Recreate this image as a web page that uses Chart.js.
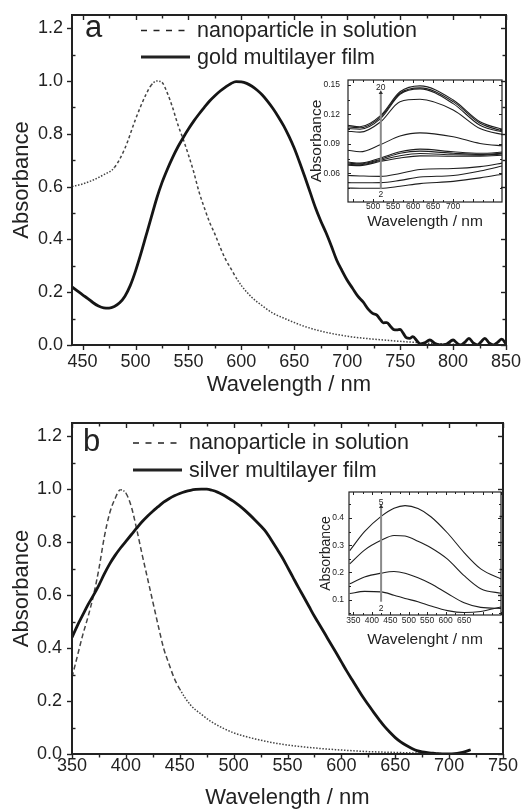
<!DOCTYPE html>
<html>
<head>
<meta charset="utf-8">
<script src="https://cdn.jsdelivr.net/npm/chart.js@4.4.1/dist/chart.umd.min.js"></script>
<style>
  html, body { margin: 0; padding: 0; background: #fff; }
  #wrap { position: relative; width: 526px; height: 811px; overflow: hidden; }
  #wrap canvas { position: absolute; }
</style>
</head>
<body>
<div id="wrap">
  <canvas id="mainA"></canvas>
  <canvas id="insetA"></canvas>
  <canvas id="mainB"></canvas>
  <canvas id="insetB"></canvas>
</div>
<script>
// ---- panel a : gold ----
const goldFilmX = [440,445,450,455,460,465,470,475,480,485,490,495,500,505,510,515,520,525,530,535,
  540,545,550,555,560,565,570,575,580,585,590,595,600,605,610,615,620,625,630,635,640,645,650,655,
  660,665,670,675,680,685,690,695,700,705,710,715,720,724,728,731,734,737.5,741,744,747,750,753,756,
  759,762,766,769,773,778,783,788,794,800,804,807,811,815,819,823,826,830,834,838,842,846,850];
const goldFilm = [0.220,0.205,0.190,0.176,0.160,0.148,0.141,0.140,0.146,0.160,0.185,0.225,0.280,0.345,
  0.415,0.485,0.555,0.615,0.665,0.710,0.750,0.785,0.818,0.848,0.875,0.900,0.924,0.944,0.962,0.977,
  0.990,0.998,0.997,0.991,0.980,0.965,0.946,0.922,0.895,0.864,0.830,0.790,0.745,0.692,0.636,0.578,
  0.520,0.470,0.425,0.375,0.322,0.282,0.245,0.215,0.185,0.163,0.135,0.120,0.113,0.098,0.084,0.085,
  0.070,0.058,0.057,0.059,0.044,0.027,0.025,0.032,0.015,0.004,0.008,0.019,0.006,0.000,0.004,0.019,
  0.006,0.000,0.010,0.025,0.008,0.000,0.010,0.025,0.008,0.000,0.010,0.022,0.004];
const goldSolX = [440,450,460,470,480,490,500,505,510,515,520,525,530,535,540,545,550,555,560,565,570,
  575,580,585,590,595,600,610,620,630,640,650,660,670,680,690,700,720,740,760,780,800,820,850];
const goldSol = [0.600,0.610,0.625,0.645,0.672,0.745,0.855,0.905,0.950,0.985,1.000,0.995,0.955,0.900,
  0.835,0.780,0.720,0.655,0.580,0.520,0.465,0.420,0.370,0.325,0.290,0.255,0.225,0.180,0.148,0.120,
  0.102,0.085,0.070,0.058,0.048,0.040,0.033,0.024,0.017,0.011,0.006,0.003,0.001,0.000];
const mainATicksX = [450,500,550,600,650,700,750,800,850];
const mainTicksY = [0,0.2,0.4,0.6,0.8,1.0,1.2];

// inset a : film growth, layers 2 ... 20
const insetAX = [435,467,519,567,617,700,767,831];
const goldLayers = [
  [0.1090,0.1075,0.1190,0.1430,0.1490,0.1347,0.1126,0.1040],
  [0.1075,0.1065,0.1176,0.1415,0.1470,0.1330,0.1110,0.1024],
  [0.1058,0.1050,0.1160,0.1405,0.1460,0.1310,0.1090,0.1014],
  [0.1030,0.1020,0.1126,0.1330,0.1354,0.1245,0.1056,0.0990],
  [0.0837,0.0820,0.0895,0.0980,0.1013,0.0973,0.0905,0.0878],
  [0.0717,0.0705,0.0758,0.0820,0.0847,0.0820,0.0805,0.0820],
  [0.0707,0.0697,0.0745,0.0805,0.0827,0.0805,0.0793,0.0810],
  [0.0694,0.0688,0.0735,0.0780,0.0803,0.0790,0.0786,0.0800],
  [0.0684,0.0680,0.0724,0.0758,0.0779,0.0775,0.0776,0.0786],
  [0.0580,0.0575,0.0570,0.0600,0.0640,0.0650,0.0670,0.0711],
  [0.0507,0.0505,0.0507,0.0530,0.0564,0.0580,0.0625,0.0684],
  [0.0452,0.0450,0.0450,0.0470,0.0497,0.0520,0.0555,0.0599]
];
const insetATicksX = [500,550,600,650,700];
const insetATicksY = [0.06,0.09,0.12,0.15];
const arrowA = {x: 519, lo: 0.044, hi: 0.142, top: '20', topY: 0.1475, bottom: '2', bottomY: 0.0385};

// ---- panel b : silver ----
const silverFilmX = [350,355,360,365,370,375,380,385,390,395,400,405,410,415,420,425,430,435,440,445,
  450,455,460,465,470,475,480,485,490,495,500,505,510,515,520,525,530,535,540,545,550,555,560,565,
  570,575,580,585,590,595,600,605,610,615,620,625,630,635,640,645,650,655,660,665,670,675,680,685,
  690,695,700,705,710,715,720];
const silverFilm = [0.440,0.485,0.525,0.565,0.600,0.638,0.680,0.718,0.750,0.778,0.803,0.828,0.853,0.877,
  0.898,0.917,0.934,0.951,0.964,0.975,0.984,0.991,0.996,0.999,1.000,1.000,0.996,0.989,0.979,0.967,
  0.954,0.939,0.922,0.903,0.883,0.862,0.839,0.808,0.776,0.743,0.706,0.668,0.630,0.594,0.557,0.520,
  0.486,0.452,0.417,0.383,0.348,0.313,0.280,0.247,0.215,0.186,0.157,0.130,0.104,0.082,0.062,0.046,
  0.033,0.022,0.013,0.008,0.005,0.003,0.001,0.000,0.000,0.001,0.004,0.009,0.016];
const silverSolX = [350,355,360,365,370,375,380,385,390,395,400,405,410,415,420,425,430,435,440,445,
  450,460,470,480,490,500,520,540,560,580,600,625,650,675,700,720];
const silverSol = [0.290,0.370,0.450,0.520,0.600,0.700,0.820,0.910,0.965,0.998,0.985,0.935,0.850,0.755,
  0.665,0.575,0.485,0.400,0.340,0.285,0.245,0.185,0.150,0.120,0.098,0.080,0.057,0.040,0.029,0.021,
  0.015,0.009,0.006,0.003,0.001,0.000];
const mainBTicksX = [350,400,450,500,550,600,650,700,750];

// inset b : film growth, layers 2 ... 5
const insetBX = [340,380,425,460,490,525,560,605,650,695,755];
const silverLayers = [
  [0.280,0.350,0.406,0.436,0.446,0.435,0.405,0.345,0.273,0.213,0.173],
  [0.231,0.282,0.318,0.336,0.334,0.315,0.291,0.249,0.188,0.140,0.122],
  [0.158,0.183,0.197,0.203,0.197,0.180,0.158,0.122,0.088,0.071,0.067],
  [0.122,0.130,0.128,0.116,0.104,0.092,0.076,0.059,0.052,0.056,0.074]
];
const insetBTicksX = [350,400,450,500,550,600,650];
const insetBTicksY = [0.1,0.2,0.3,0.4];
const arrowB = {x: 425, lo: 0.092, hi: 0.442, top: '5', topY: 0.456, bottom: '2', bottomY: 0.068};

const FONT = "'Liberation Sans', Arial, Helvetica, sans-serif";
const INK = '#222';

// box + ticks drawn round the plot area, ticks taken from the scales
const frameTicks = {
  id: 'frameTicks',
  afterDatasetsDraw(chart, args, o) {
    const {ctx, chartArea: a} = chart;
    const sx = chart.scales.x, sy = chart.scales.y;
    const seg = (x1, y1, x2, y2) => { ctx.beginPath(); ctx.moveTo(x1, y1); ctx.lineTo(x2, y2); ctx.stroke(); };
    ctx.save();
    ctx.strokeStyle = INK;
    ctx.lineWidth = o.tickWidth;
    for (let i = 0; i < 100; i++) {
      const v = o.x.start + i * o.x.step;
      if (v > sx.max + 1e-9) break;
      if (v < sx.min - 1e-9) continue;
      const p = Math.round(sx.getPixelForValue(v)) + 0.5;
      const L = i % o.x.every === 0 ? o.major : o.minor;
      if (o.out) seg(p, a.bottom, p, a.bottom + L); else seg(p, a.bottom, p, a.bottom - L);
      seg(p, a.top, p, a.top + L);
    }
    for (let i = 0; i < 100; i++) {
      const v = o.y.start + i * o.y.step;
      if (v > sy.max + 1e-9) break;
      if (v < sy.min - 1e-9) continue;
      const p = Math.round(sy.getPixelForValue(v)) + 0.5;
      const major = i % o.y.every === 0;
      const L = major ? o.major : o.minor;
      if (o.out && major) seg(a.left, p, a.left - L, p); else seg(a.left, p, a.left + L, p);
      seg(a.right, p, a.right - L, p);
    }
    ctx.lineWidth = o.width;
    ctx.strokeRect(a.left, a.top, a.right - a.left, a.bottom - a.top);
    ctx.restore();
  }
};

// panel letter, legend and arrow labels
const panelNotes = {
  id: 'panelNotes',
  afterDraw(chart, args, o) {
    const ctx = chart.ctx;
    ctx.save();
    ctx.fillStyle = INK;
    ctx.strokeStyle = INK;
    if (o.letter) {
      ctx.font = `${o.letter.size}px ${FONT}`;
      ctx.textBaseline = 'alphabetic';
      ctx.fillText(o.letter.text, o.letter.x, o.letter.y);
    }
    (o.legend || []).forEach(it => {
      ctx.setLineDash(it.dash);
      ctx.lineWidth = it.width;
      ctx.beginPath(); ctx.moveTo(it.x1, it.y); ctx.lineTo(it.x2, it.y); ctx.stroke();
      ctx.setLineDash([]);
      ctx.font = `${o.legendSize}px ${FONT}`;
      ctx.textBaseline = 'alphabetic';
      ctx.fillText(it.text, it.tx, it.ty);
    });
    if (o.arrow) {
      const ar = o.arrow;
      const px = chart.scales.x.getPixelForValue(ar.x);
      ctx.font = `${o.arrowSize}px ${FONT}`;
      ctx.textAlign = 'center';
      ctx.textBaseline = 'middle';
      ctx.fillText(ar.top, px, chart.scales.y.getPixelForValue(ar.topY));
      ctx.fillText(ar.bottom, px, chart.scales.y.getPixelForValue(ar.bottomY));
    }
    ctx.restore();
  }
};

function pts(xs, ys) {
  return xs.map((x, i) => ({x: x, y: ys[i]}));
}

function place(id, box) {
  const c = document.getElementById(id);
  c.width = box.w;
  c.height = box.h;
  c.style.left = box.x + 'px';
  c.style.top = box.y + 'px';
  c.style.width = box.w + 'px';
  c.style.height = box.h + 'px';
  return c;
}

function makeChart(id, box, area, cfg) {
  const canvas = place(id, box);
  return new Chart(canvas, {
    type: 'line',
    data: { datasets: cfg.datasets },
    options: {
      responsive: false,
      animation: false,
      devicePixelRatio: 1,
      layout: { padding: { left: 0, top: area.t - box.y, right: box.x + box.w - area.r, bottom: 0 } },
      elements: { point: { radius: 0 } },
      plugins: {
        legend: { display: false },
        tooltip: { enabled: false },
        frameTicks: cfg.frame,
        panelNotes: cfg.notes
      },
      scales: {
        x: {
          type: 'linear',
          min: cfg.xMin,
          max: cfg.xMax,
          afterBuildTicks: s => { s.ticks = cfg.xTicks.map(v => ({value: v})); },
          afterFit: s => {
            s.height = box.y + box.h - area.b;
            s.paddingLeft = 0; s.paddingRight = 0;
          },
          grid: { display: false, drawTicks: false },
          border: { display: false },
          ticks: {
            autoSkip: false, maxRotation: 0, padding: cfg.xPad, color: INK,
            font: { family: FONT, size: cfg.tickSize },
            callback: v => String(v)
          },
          title: {
            display: true, text: cfg.xTitle, color: INK,
            font: { family: FONT, size: cfg.titleSize },
            padding: { top: 0, bottom: cfg.xTitlePad }
          }
        },
        y: {
          type: 'linear',
          min: cfg.yMin,
          max: cfg.yMax,
          afterBuildTicks: s => { s.ticks = cfg.yTicks.map(v => ({value: v})); },
          afterFit: s => {
            s.width = area.l - box.x;
            s.paddingTop = 0; s.paddingBottom = 0;
          },
          grid: { display: false, drawTicks: false },
          border: { display: false },
          ticks: {
            autoSkip: false, padding: cfg.yPad, color: INK,
            font: { family: FONT, size: cfg.tickSize },
            callback: v => Number(v).toFixed(cfg.yDec)
          },
          title: {
            display: true, text: 'Absorbance', color: INK,
            font: { family: FONT, size: cfg.yTitleSize || cfg.titleSize },
            padding: { top: cfg.yTitlePad, bottom: 0 }
          }
        }
      }
    },
    plugins: [frameTicks, panelNotes]
  });
}

// steep parts of the solution spectra look dashed, flat parts dotted
function solDash(long, short) {
  return ctx => {
    const dx = Math.abs(ctx.p1.x - ctx.p0.x) || 1;
    return Math.abs(ctx.p1.y - ctx.p0.y) / dx > 1.6 ? long : short;
  };
}

function filmSet(xs, ys) {
  return { data: pts(xs, ys), borderColor: '#151515', borderWidth: 2.8, cubicInterpolationMode: 'monotone', order: 0 };
}
function solSet(xs, ys, long) {
  return {
    data: pts(xs, ys), borderColor: '#444', borderWidth: 1.5, cubicInterpolationMode: 'monotone', order: 1,
    borderDash: [1.5, 1.6],
    segment: { borderDash: solDash(long, [1.5, 1.6]) }
  };
}
function layerSets(xs, layers) {
  return layers.map(ys => ({ data: pts(xs, ys), borderColor: '#1e1e1e', borderWidth: 1.1, cubicInterpolationMode: 'monotone' }));
}
function arrowSet(ar) {
  return {
    data: [{x: ar.x, y: ar.lo}, {x: ar.x, y: ar.hi}],
    borderColor: '#8a8a8a', borderWidth: 2,
    pointRadius: [0, 2.5], pointStyle: 'triangle',
    pointBackgroundColor: '#333', pointBorderColor: '#333', pointBorderWidth: 0
  };
}

// ---- panel a ----
makeChart('mainA', {x: 0, y: 0, w: 526, h: 400}, {l: 72, t: 15, r: 506, b: 345}, {
  datasets: [solSet(goldSolX, goldSol, [3, 2.5]), filmSet(goldFilmX, goldFilm)],
  xMin: 440, xMax: 850, xTicks: mainATicksX,
  yMin: 0, yMax: 1.25, yTicks: mainTicksY, yDec: 1,
  tickSize: 18, titleSize: 22, xPad: 6, yPad: 9, xTitlePad: 2, yTitlePad: 8.5,
  xTitle: 'Wavelength / nm',
  frame: { width: 2, tickWidth: 1.4, major: 5, minor: 3.5, out: true,
    x: {start: 450, step: 25, every: 2}, y: {start: 0, step: 0.1, every: 2} },
  notes: {
    letter: {text: 'a', x: 85, y: 37, size: 31},
    legendSize: 21.5,
    legend: [
      {text: 'nanoparticle in solution', x1: 141, x2: 190, y: 30.5, tx: 197, ty: 37, dash: [6, 6.5], width: 1.4},
      {text: 'gold multilayer film', x1: 141, x2: 190, y: 57, tx: 197, ty: 63.5, dash: [], width: 2.8}
    ]
  }
});

makeChart('insetA', {x: 300, y: 72, w: 215, h: 160}, {l: 348, t: 80, r: 502, b: 202}, {
  datasets: [arrowSet(arrowA)].concat(layerSets(insetAX, goldLayers)),
  xMin: 437, xMax: 822, xTicks: insetATicksX,
  yMin: 0.031, yMax: 0.155, yTicks: insetATicksY, yDec: 2,
  tickSize: 8.5, titleSize: 15.5, xPad: 0, yPad: 8, xTitlePad: 1, yTitlePad: 7.5,
  xTitle: 'Wavelength / nm',
  frame: { width: 1.2, tickWidth: 1, major: 3, minor: 2, out: false,
    x: {start: 450, step: 25, every: 2}, y: {start: 0.03, step: 0.015, every: 2} },
  notes: { arrow: arrowA, arrowSize: 8.5 }
});

// ---- panel b ----
makeChart('mainB', {x: 0, y: 400, w: 526, h: 411}, {l: 72, t: 423, r: 503, b: 754}, {
  datasets: [solSet(silverSolX, silverSol, [5, 3]), filmSet(silverFilmX, silverFilm)],
  xMin: 350, xMax: 750, xTicks: mainBTicksX,
  yMin: 0, yMax: 1.25, yTicks: mainTicksY, yDec: 1,
  tickSize: 18, titleSize: 22, xPad: 1, yPad: 10, xTitlePad: 0, yTitlePad: 8.5,
  xTitle: 'Wavelength / nm',
  frame: { width: 2, tickWidth: 1.4, major: 5, minor: 3.5, out: true,
    x: {start: 350, step: 25, every: 2}, y: {start: 0, step: 0.1, every: 2} },
  notes: {
    letter: {text: 'b', x: 83, y: 51, size: 31},
    legendSize: 21.5,
    legend: [
      {text: 'nanoparticle in solution', x1: 133, x2: 182, y: 43, tx: 189, ty: 49, dash: [6, 6.5], width: 1.4},
      {text: 'silver multilayer film', x1: 133, x2: 182, y: 70, tx: 189, ty: 76.5, dash: [], width: 2.8}
    ]
  }
});

makeChart('insetB', {x: 300, y: 484, w: 215, h: 165}, {l: 349, t: 492, r: 501, b: 615}, {
  datasets: [arrowSet(arrowB)].concat(layerSets(insetBX, silverLayers)),
  xMin: 338, xMax: 750, xTicks: insetBTicksX,
  yMin: 0.043, yMax: 0.496, yTicks: insetBTicksY, yDec: 1,
  tickSize: 8.5, titleSize: 15.5, yTitleSize: 14, xPad: 1, yPad: 5, xTitlePad: 0, yTitlePad: 18,
  xTitle: 'Wavelenght / nm',
  frame: { width: 1.2, tickWidth: 1, major: 3, minor: 2, out: false,
    x: {start: 350, step: 25, every: 2}, y: {start: 0, step: 0.05, every: 2} },
  notes: { arrow: arrowB, arrowSize: 8.5 }
});
</script>
</body>
</html>
